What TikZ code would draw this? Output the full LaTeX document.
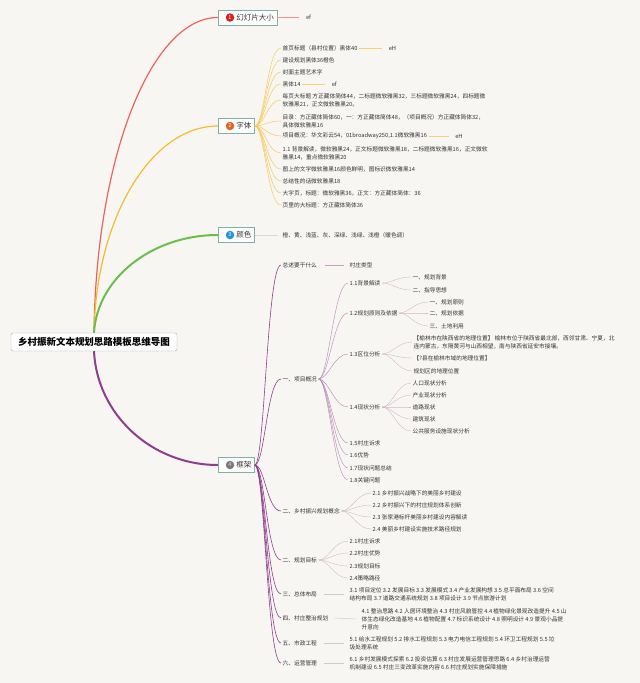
\documentclass[tikz,border=0pt]{standalone}
\usepackage{fontspec}
\setmainfont{Noto Sans CJK SC}
\definecolor{bgc}{HTML}{F8F6F3}
\definecolor{boxc}{HTML}{7DB3A4}
\definecolor{txtc}{HTML}{333333}
\definecolor{redl}{HTML}{EE6359}
\definecolor{orgl}{HTML}{F5BD2E}
\definecolor{grnl}{HTML}{6BBE4A}
\definecolor{purl}{HTML}{8E3E8C}
\definecolor{redb}{HTML}{D8201C}
\definecolor{orgb}{HTML}{E7641C}
\definecolor{blub}{HTML}{2295DA}
\definecolor{gryb}{HTML}{7A7A7A}
\definecolor{pinkl}{HTML}{D6B8C9}
\begin{document}
\begin{tikzpicture}[x=1pt,y=-1pt,
  root/.style={draw=gray!70,fill=white,rounded corners=2pt,minimum height=18,inner xsep=7,font=\fontsize{9.5}{11}\selectfont\bfseries},
  topic/.style={draw=boxc,fill=white,line width=0.8pt,minimum height=15,inner xsep=3,anchor=west,font=\fontsize{7.5}{9}\selectfont,text=txtc},
  badge/.style={circle,fill=#1,text=white,inner sep=0,minimum size=8.5,font=\fontsize{5.5}{6}\selectfont},
  leaf/.style={anchor=west,inner xsep=1.5,inner ysep=1,align=left,font=\fontsize{5.7}{8}\selectfont,text=txtc},
  cv/.style={to path={.. controls +(10,0) and +(-14,0) .. (\tikztotarget)}},
  osub/.style={draw=orgl!80,line width=0.5pt,cv},
  psub/.style={draw=purl,line width=0.6pt,cv},
  ptwo/.style={draw=purl!60,line width=0.45pt,cv},
  pthree/.style={draw=pinkl,line width=0.4pt,cv}]
\fill[bgc](0,0) rectangle (640,683);
\useasboundingbox (0,0) rectangle (640,683);
% root and main topics
\node[root] (root) at(94,342){乡村振新文本规划思路模板思维导图};
\draw[redl,line width=1.2pt](root.north) .. controls (96,158) and (151,17.5) .. (218,17.5);
\draw[orgl,line width=1.2pt](root.north) .. controls (96,218) and (151,126) .. (218,126);
\draw[grnl,line width=2pt](root.north) .. controls (97,279) and (151,235) .. (218,235);
\draw[purl,line width=2pt](root.south) .. controls (97,414) and (151,465) .. (218,465);
\node[topic] (t1) at(218,17.5){\hspace{15pt}幻灯片大小};
\node[topic] (t2) at(218,126){\hspace{15pt}字体};
\node[topic] (t3) at(218,235){\hspace{15pt}颜色};
\node[topic] (t4) at(218,465){\hspace{15pt}框架};
\node[badge=redb] (b1) at(230,17.5){1};
\node[badge=orgb] (b2) at(230,126){2};
\node[badge=blub] (b3) at(230,235){3};
\node[badge=gryb,text=gray!30] (b4) at(230,465){4};
% slide size
\node[leaf] (e0) at([xshift=27]t1.east){ef};
\draw[redl!70,line width=0.5pt](t1.east) -- ([xshift=-5]e0.west);
% fonts
\node[leaf] (l1) at(281,48){首页标题（县村位置）黑体40};
\node[leaf] (l2) at(281,60){建设规划黑体36橙色};
\node[leaf] (l3) at(281,72){封面主题艺术字};
\node[leaf] (l4) at(281,84){黑体14};
\node[leaf] (l5) at(281,100){每页大标题 方正藏体简体44，二标题微软雅黑32，三标题微软雅黑24，四标题微\\软雅黑21，正文微软雅黑20。};
\node[leaf] (l6) at(281,121){目录：方正藏体简体60，一：方正藏体简体48，（项目概况）方正藏体简体32，\\具体微软雅黑16};
\node[leaf] (l7) at(281,136){项目概况：华文彩云54，01broadway250,1.1微软雅黑16};
\node[leaf] (l8) at(281,153){1.1 背景解读，微软雅黑24，正文标题微软雅黑18，二标题微软雅黑16，正文微软\\雅黑14，重点微软雅黑20};
\node[leaf] (l9) at(281,169){图上的文字微软雅黑16颜色鲜明，图标识微软雅黑14};
\node[leaf] (l10) at(281,181){总结性的话微软雅黑18};
\node[leaf] (l11) at(281,193){大字页，标题：微软雅黑36，正文：方正藏体简体：36};
\node[leaf] (l12) at(281,205){页里的大标题：方正藏体简体36};
\draw[osub](t2.east) to (l1.west);
\draw[osub](t2.east) to (l2.west);
\draw[osub](t2.east) to (l3.west);
\draw[osub](t2.east) to (l4.west);
\draw[osub](t2.east) to (l5.west);
\draw[osub](t2.east) to (l6.west);
\draw[osub](t2.east) to (l7.west);
\draw[osub](t2.east) to (l8.west);
\draw[osub](t2.east) to (l9.west);
\draw[osub](t2.east) to (l10.west);
\draw[osub](t2.east) to (l11.west);
\draw[osub](t2.east) to (l12.west);
\node[leaf] (e1) at([xshift=28]l1.east){eH};
\node[leaf] (e2) at([xshift=28]l4.east){ef};
\node[leaf] (e3) at([xshift=25]l7.east){eH};
\draw[orgl!70,line width=0.5pt](l1.east) -- ([xshift=-5]e1.west);
\draw[orgl!70,line width=0.5pt](l4.east) -- ([xshift=-5]e2.west);
\draw[orgl!70,line width=0.5pt](l7.east) -- ([xshift=-5]e3.west);
% colours
\node[leaf] (cl) at(281,235){橙、黄、浅蓝、灰、深绿、浅绿、浅橙（暖色调）};
\draw[gray!30,line width=0.6pt](t3.east) -- ([xshift=-3]cl.west);
% frame
\node[leaf] (c1) at(281,265){总述要干什么};
\node[leaf] (c2) at(281,379){一、项目概况};
\node[leaf] (c3) at(281,511){二、乡村振兴规划概念};
\node[leaf] (c4) at(281,560){二、规划目标};
\node[leaf] (c5) at(281,594){三、总体布局};
\node[leaf] (c6) at(281,618){四、村庄整治规划};
\node[leaf] (c7) at(281,643){五、市政工程};
\node[leaf] (c8) at(281,663){六、运营管理};
\draw[psub](t4.east) to (c1.west);
\draw[psub](t4.east) to (c2.west);
\draw[psub](t4.east) to (c3.west);
\draw[psub](t4.east) to (c4.west);
\draw[psub](t4.east) to (c5.west);
\draw[psub](t4.east) to (c6.west);
\draw[psub](t4.east) to (c7.west);
\draw[psub](t4.east) to (c8.west);
\node[leaf] (g1) at(348,265){村庄类型};
\draw[purl!50,line width=0.45pt]([xshift=6]c1.east) -- ([xshift=-4]g1.west);
% project overview
\node[leaf] (p1) at(348,283){1.1背景解读};
\node[leaf] (p2) at(348,313){1.2规划原则及依据};
\node[leaf] (p3) at(348,354){1.3区位分析};
\node[leaf] (p4) at(348,407){1.4现状分析};
\node[leaf] (p5) at(348,443){1.5村庄诉求};
\node[leaf] (p6) at(348,455){1.6优势};
\node[leaf] (p7) at(348,468){1.7现状问题总结};
\node[leaf] (p8) at(348,480){1.8关键问题};
\draw[ptwo](c2.east) to (p1.west);
\draw[ptwo](c2.east) to (p2.west);
\draw[ptwo](c2.east) to (p3.west);
\draw[ptwo](c2.east) to (p4.west);
\draw[ptwo](c2.east) to (p5.west);
\draw[ptwo](c2.east) to (p6.west);
\draw[ptwo](c2.east) to (p7.west);
\draw[ptwo](c2.east) to (p8.west);
\node[leaf] (q1) at(411,277){一、规划背景};
\node[leaf] (q2) at(411,290){二、指导思想};
\draw[pthree](p1.east) to (q1.west);
\draw[pthree](p1.east) to (q2.west);
\node[leaf] (q3) at(428,302){一、规划原则};
\node[leaf] (q4) at(428,313){二、规划依据};
\node[leaf] (q5) at(428,326){三、土地利用};
\draw[pthree](p2.east) to (q3.west);
\draw[pthree](p2.east) to (q4.west);
\draw[pthree](p2.east) to (q5.west);
\node[leaf] (q6) at(412,342){【榆林市在陕西省的地理位置】 榆林市位于陕西省最北部，西邻甘肃、宁夏，北\\连内蒙古，东隔黄河与山西相望，南与陕西省延安市接壤。};
\node[leaf] (q7) at(412,358){【?县在榆林市域的地理位置】};
\node[leaf] (q8) at(412,371){规划区的地理位置};
\draw[pthree](p3.east) to (q6.west);
\draw[pthree](p3.east) to (q7.west);
\draw[pthree](p3.east) to (q8.west);
\node[leaf] (q9) at(411,383){人口现状分析};
\node[leaf] (q10) at(411,395){产业现状分析};
\node[leaf] (q11) at(411,407){道路现状};
\node[leaf] (q12) at(411,419){建筑现状};
\node[leaf] (q13) at(411,431){公共服务设施现状分析};
\draw[pthree](p4.east) to (q9.west);
\draw[pthree](p4.east) to (q10.west);
\draw[pthree](p4.east) to (q11.west);
\draw[pthree](p4.east) to (q12.west);
\draw[pthree](p4.east) to (q13.west);
% concept and goals
\node[leaf] (r1) at(371,493){2.1 乡村振兴战略下的美丽乡村建设};
\node[leaf] (r2) at(371,505){2.2 乡村振兴下的村庄规划体系创新};
\node[leaf] (r3) at(371,517){2.3 张家港标杆美丽乡村建设内容解读};
\node[leaf] (r4) at(371,529){2.4 美丽乡村建设实施技术路径规划};
\draw[pthree](c3.east) to (r1.west);
\draw[pthree](c3.east) to (r2.west);
\draw[pthree](c3.east) to (r3.west);
\draw[pthree](c3.east) to (r4.west);
\node[leaf] (s1) at(348,541){2.1村庄诉求};
\node[leaf] (s2) at(348,553){2.2村庄优势};
\node[leaf] (s3) at(348,566){2.3规划目标};
\node[leaf] (s4) at(348,578){2.4策略路径};
\draw[pthree](c4.east) to (s1.west);
\draw[pthree](c4.east) to (s2.west);
\draw[pthree](c4.east) to (s3.west);
\draw[pthree](c4.east) to (s4.west);
% chapters 3-6
\node[leaf] (d5) at(348,594){3.1 项目定位 3.2 发展目标 3.3 发展模式 3.4 产业发展构想 3.5 总平面布局 3.6 空间\\结构布局 3.7 道路交通系统规划 3.8 项目设计 3.9 节点旅游计划};
\node[leaf] (d6) at(360,619){4.1 整治思路 4.2 人居环境整治 4.3 村庄风貌管控 4.4 植物绿化景观改造提升 4.5 山\\体生态绿化改造基地 4.6 植物配置 4.7 标识系统设计 4.8 照明设计 4.9 景观小品提\\升意向};
\node[leaf] (d7) at(348,643){5.1 给水工程规划 5.2 排水工程规划 5.3 电力电信工程规划 5.4 环卫工程规划 5.5 垃\\圾处理系统};
\node[leaf] (d8) at(348,663){6.1 乡村发展模式探索 6.2 投资估算 6.3 村庄发展运营管理思路 6.4 乡村治理运营\\机制建设 6.5 村庄三变改革实施内容 6.6 村庄规划实施保障措施};
\draw[gray!40,line width=0.5pt]([xshift=5]c5.east) -- ([xshift=-4]d5.west);
\draw[gray!40,line width=0.5pt]([xshift=5]c6.east) -- ([xshift=-4]d6.west);
\draw[gray!40,line width=0.5pt]([xshift=5]c7.east) -- ([xshift=-4]d7.west);
\draw[gray!40,line width=0.5pt]([xshift=5]c8.east) -- ([xshift=-4]d8.west);
\end{tikzpicture}
\end{document}
